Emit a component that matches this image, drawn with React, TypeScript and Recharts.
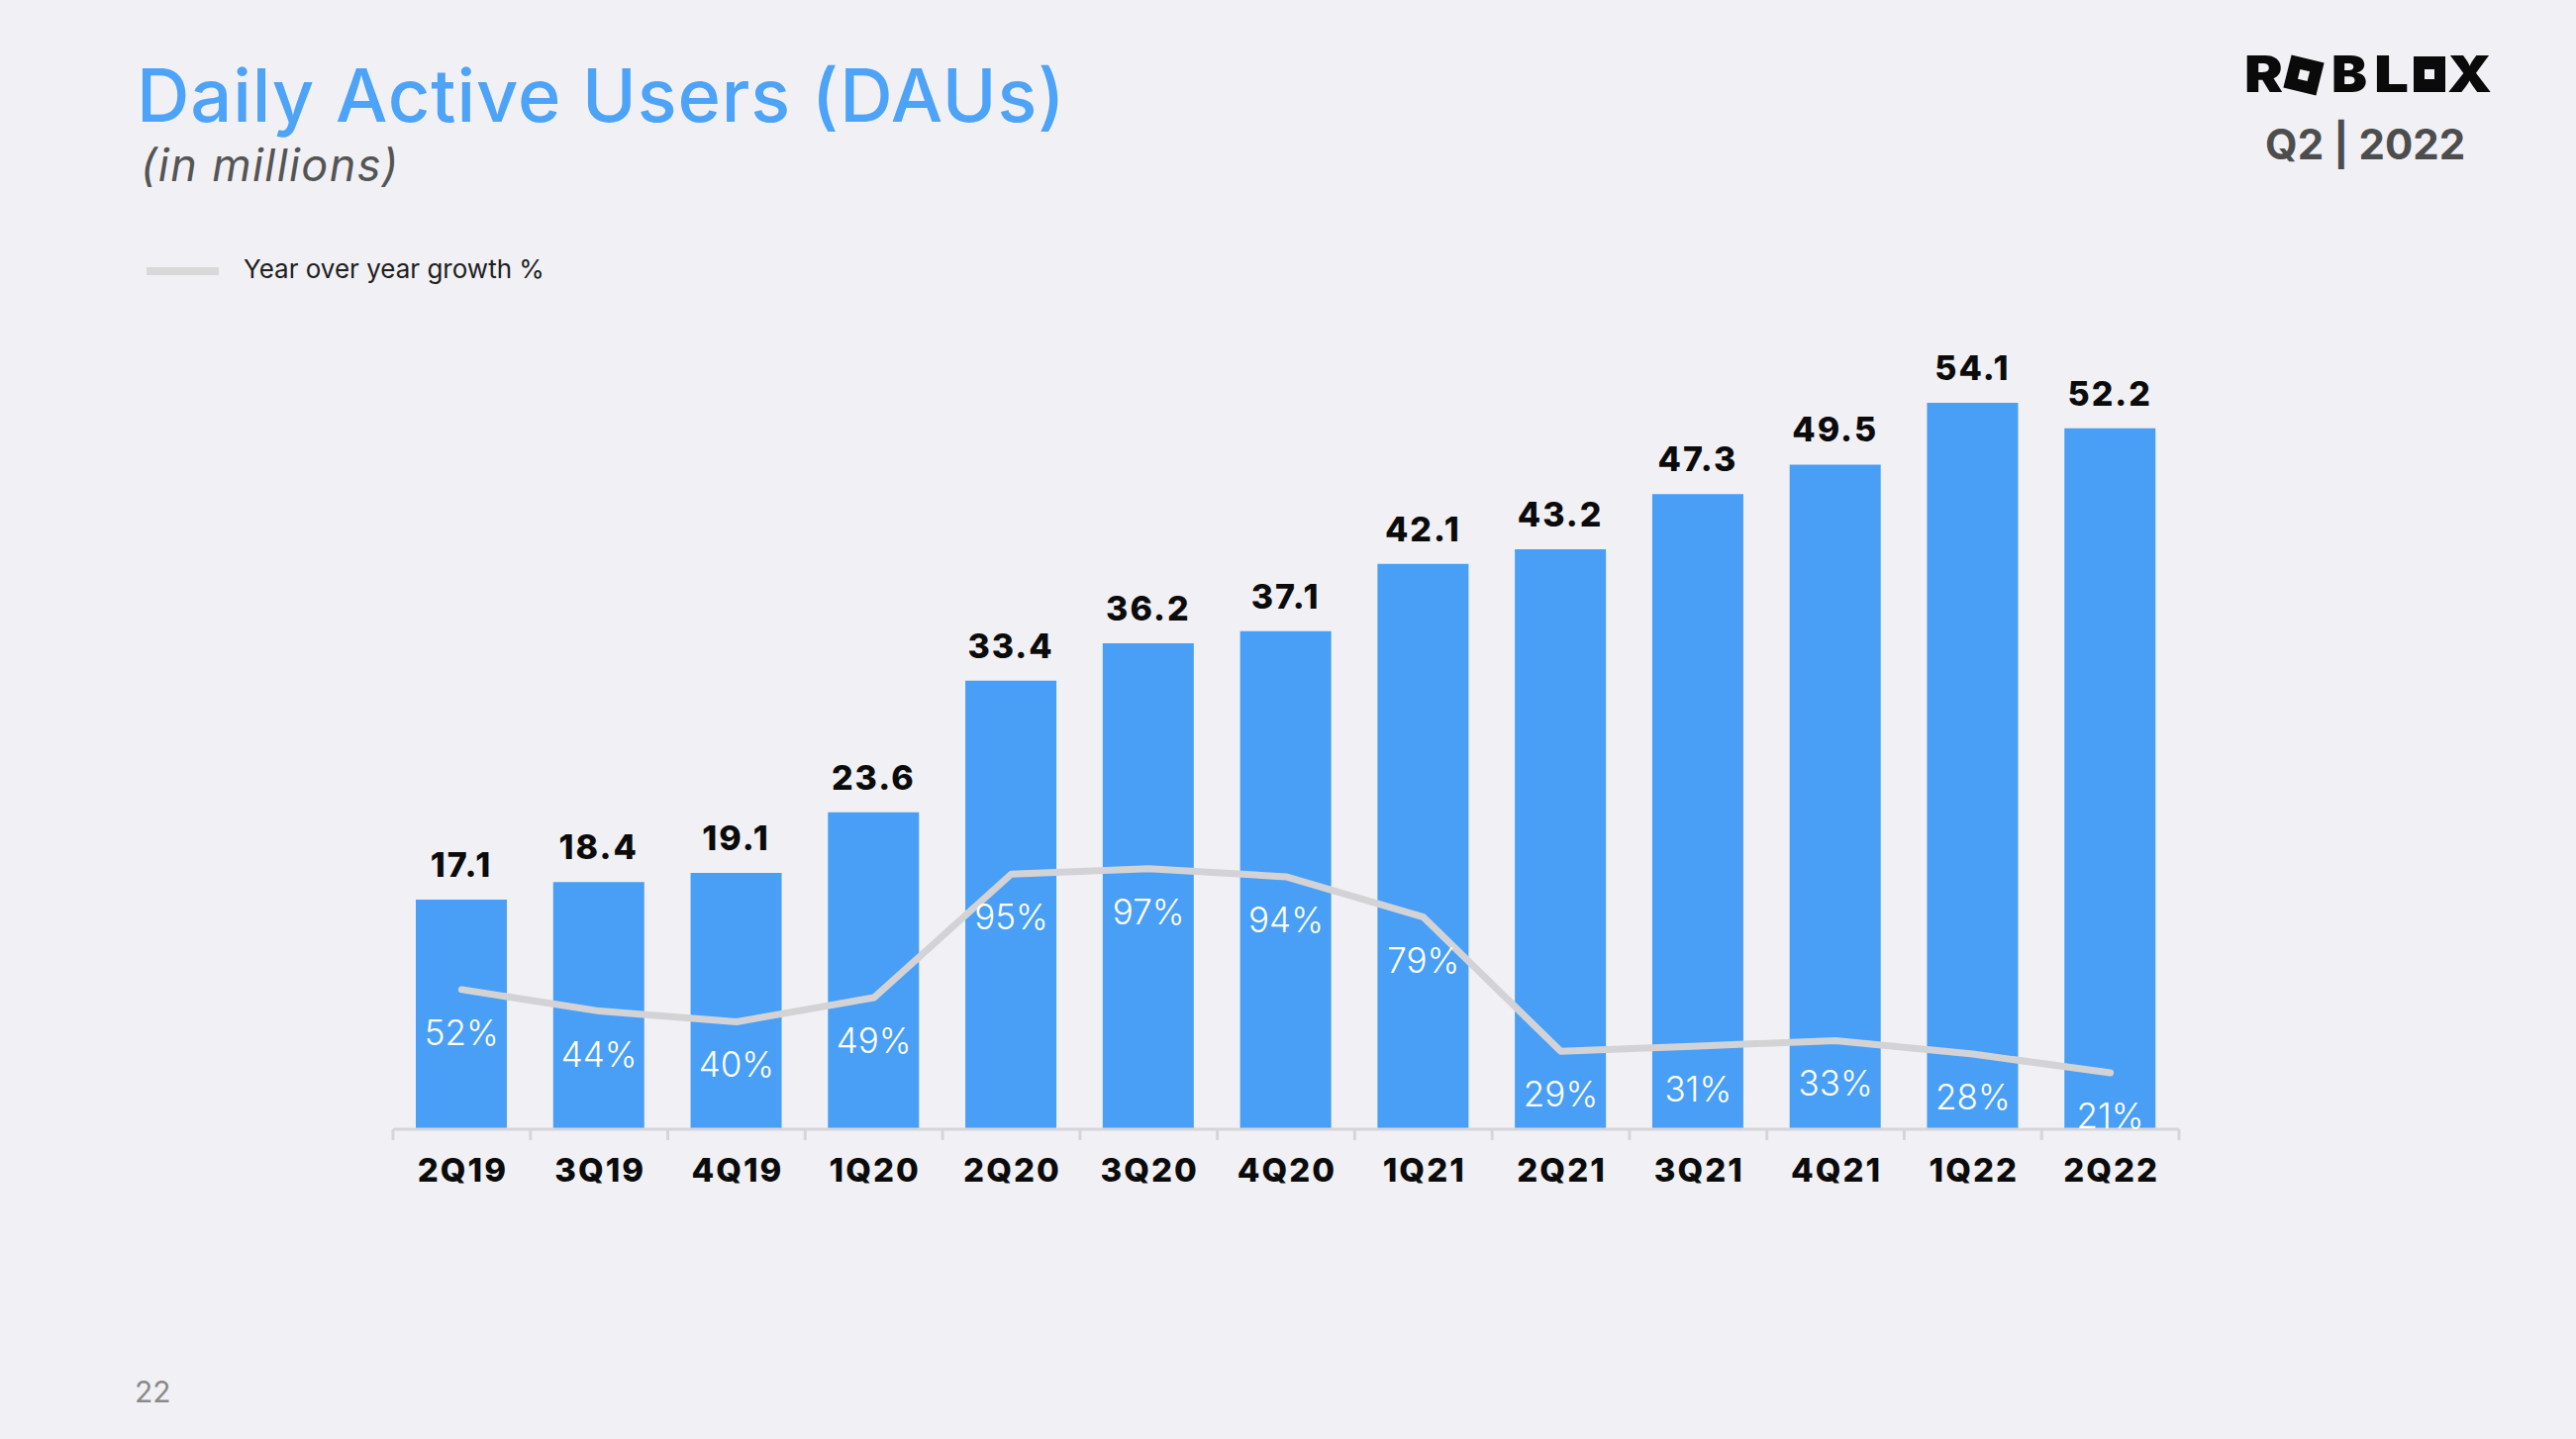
import React from 'react';
import { ComposedChart, Bar, Line, XAxis, YAxis, LabelList } from 'recharts';

// quarterly DAUs (millions) and yoy growth (%)
const quarters = ['2Q19', '3Q19', '4Q19', '1Q20', '2Q20', '3Q20', '4Q20', '1Q21', '2Q21', '3Q21', '4Q21', '1Q22', '2Q22'];
const daus = [17.1, 18.4, 19.1, 23.6, 33.4, 36.2, 37.1, 42.1, 43.2, 47.3, 49.5, 54.1, 52.2];
const growth = [52, 44, 40, 49, 95, 97, 94, 79, 29, 31, 33, 28, 21];

const W = 2602;
const H = 1454;
const MARGIN = { top: 327, right: 401, bottom: 233, left: 397 };
const STEP = (W - MARGIN.left - MARGIN.right) / quarters.length;

const BG = '#f1f1f5';
const BLUE = '#489ff5';
const FONT = 'Inter, "Noto Sans", sans-serif';

const chartData = quarters.map((q, i) => ({ quarter: q, dau: daus[i], yoy: growth[i] }));

function QuarterTick(props: any) {
  const { x, y, payload, index } = props;
  const last = index === quarters.length - 1;
  return (
    <g>
      <line x1={x - STEP / 2} x2={x - STEP / 2} y1={y} y2={y + 11} stroke="#d6d6da" strokeWidth={3} />
      {last && <line x1={x + STEP / 2} x2={x + STEP / 2} y1={y} y2={y + 11} stroke="#d6d6da" strokeWidth={3} />}
      <text x={x + 1} y={y + 53} textAnchor="middle" fill="#0b0b0b" fontFamily={FONT} fontWeight={800} fontSize={33} letterSpacing={2}>
        {payload.value}
      </text>
    </g>
  );
}

function GrowthLabel(props: any) {
  const { x, y, value } = props;
  return (
    <text x={x} y={y + 43} textAnchor="middle" dominantBaseline="central" fill="#ffffff" fontFamily={FONT} fontWeight={300} fontSize={35}>
      {value}%
    </text>
  );
}

function Logo() {
  const base = 47;
  const letter = (ch: string, x: number, w: number) => (
    <text x={x} y={base} textLength={w} lengthAdjust="spacingAndGlyphs" fontFamily={FONT} fontWeight={900} fontSize={51} fill="#0a0a0a">
      {ch}
    </text>
  );
  return (
    <svg width={256} height={60} style={{ position: 'absolute', left: 2267, top: 46, overflow: 'visible' }}>
      {letter('R', 0, 39)}
      <g transform="rotate(14 60 30)">
        <rect x={43} y={13} width={34} height={34} fill="#0a0a0a" />
        <rect x={55} y={25} width={10} height={10} fill={BG} />
      </g>
      {letter('B', 88, 36)}
      {letter('L', 131, 35)}
      <rect x={171} y={11} width={32} height={36} fill="#0a0a0a" />
      <rect x={182} y={24} width={10} height={10} fill={BG} />
      {letter('X', 205, 45)}
    </svg>
  );
}

export default function App() {
  return (
    <div style={{ position: 'fixed', left: 0, top: 0, width: W, height: H, background: BG, overflow: 'hidden', fontFamily: FONT }}>
      <div style={{ position: 'absolute', left: 138, top: 51, fontSize: 74, fontWeight: 500, letterSpacing: 0.9, color: '#4da3f7', whiteSpace: 'nowrap' }}>
        Daily Active Users (DAUs)
      </div>
      <div style={{ position: 'absolute', left: 142, top: 139, fontSize: 45, fontStyle: 'italic', letterSpacing: 1.4, color: '#555555', whiteSpace: 'nowrap' }}>
        (in millions)
      </div>

      <div style={{ position: 'absolute', left: 148, top: 270, width: 73, height: 8, background: '#d9d9d9' }} />
      <div style={{ position: 'absolute', left: 246, top: 256, fontSize: 26, color: '#1e1e1e', whiteSpace: 'nowrap' }}>
        Year over year growth %
      </div>

      <Logo />
      <div style={{ position: 'absolute', left: 2288, top: 120, fontSize: 42, fontWeight: 700, color: '#4d4d4d', whiteSpace: 'nowrap' }}>
        Q2 | 2022
      </div>

      <div style={{ position: 'absolute', left: 136, top: 1388, fontSize: 30, color: '#8a8a8a' }}>22</div>

      <div style={{ position: 'absolute', left: 0, top: 0 }}>
        <ComposedChart width={W} height={H} data={chartData} margin={MARGIN}>
          <XAxis
            dataKey="quarter"
            height={80}
            tickLine={false}
            tickSize={0}
            tickMargin={0}
            axisLine={{ stroke: '#d6d6da', strokeWidth: 3 }}
            tick={<QuarterTick />}
            interval={0}
          />
          <YAxis yAxisId="dau" hide domain={[0, 60]} />
          <YAxis yAxisId="yoy" hide orientation="right" domain={[0, 300]} />
          <Bar yAxisId="dau" dataKey="dau" fill={BLUE} barSize={92} isAnimationActive={false}>
            <LabelList
              dataKey="dau"
              position="top"
              offset={23}
              fill="#0b0b0b"
              fontFamily={FONT}
              fontWeight={800}
              fontSize={34}
              letterSpacing={2}
            />
          </Bar>
          <Line
            yAxisId="yoy"
            dataKey="yoy"
            type="linear"
            stroke="#d3d3d6"
            strokeWidth={7}
            strokeLinejoin="round"
            strokeLinecap="round"
            dot={false}
            activeDot={false}
            isAnimationActive={false}
          >
            <LabelList dataKey="yoy" content={<GrowthLabel />} />
          </Line>
        </ComposedChart>
      </div>
    </div>
  );
}
